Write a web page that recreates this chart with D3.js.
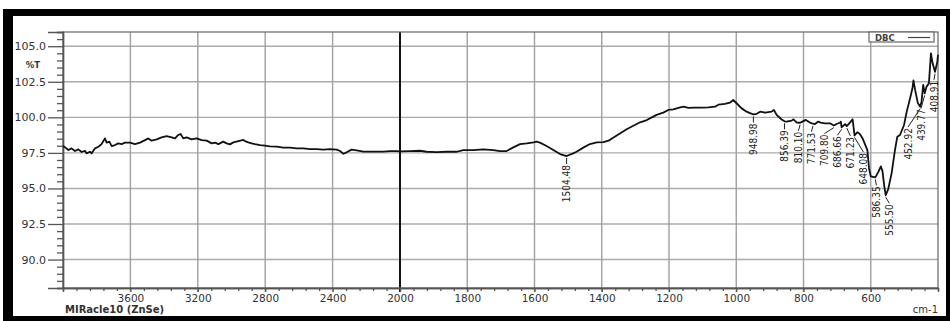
<!DOCTYPE html>
<html><head><meta charset="utf-8">
<script src="https://cdn.jsdelivr.net/npm/d3@7"></script>
<style>
html,body{margin:0;padding:0;background:#fff;}
svg{display:block;}
</style></head><body>
<svg id="chart" width="950" height="321"></svg>
<script>
// FTIR spectrum (ATR, ZnSe crystal): wavenumber in cm-1, transmittance in %T
const wavenumbers = [
  4000,3988,3968,3949,3929,3909,3889,3870,3860,3840,3830,3810,3790,3771,3751,3741,3725,3711,3691,3672,
  3652,3632,3602,3573,3543,3513,3494,3474,3444,3415,3385,3355,3335,3316,3302,3286,3266,3237,3207,3177,
  3147,3118,3098,3078,3049,3029,3009,2989,2959,2930,2920,2900,2880,2861,2831,2801,2772,2732,2693,2653,
  2613,2574,2534,2495,2455,2415,2376,2356,2336,2317,2287,2257,2218,2178,2139,2099,2059,2020,2000,1970,
  1941,1921,1891,1861,1831,1812,1782,1752,1722,1703,1683,1663,1643,1623,1603,1594,1584,1564,1544,1524,
  1504.48,1485,1475,1455,1435,1415,1395,1380,1365,1346,1326,1306,1286,1266,1251,1237,1217,1202,1187,1172,
  1157,1142,1123,1103,1083,1063,1053,1034,1019,1009,999,984,969,959,948.98,939,929,914,895,888,
  880,865,856.39,850,835,830,820,810.10,805,793,781,771.53,766,756,749,736,721,709.80,700,692,
  689,686.66,680,676,671.23,662,654,648.08,640,633,625,616,610,605,600,586.35,577,570,565,560,
  555.50,548,538,528,521,513,501,493,483,476,473,468,460,452.92,449,444,439.77,434,427,421,
  416,408.91,402,400
];
const transmittance = [
  97.98,97.89,97.70,97.82,97.63,97.75,97.56,97.65,97.47,97.58,97.47,97.82,97.93,98.12,98.52,98.22,98.29,97.98,98.05,98.17,
  98.12,98.22,98.22,98.12,98.22,98.40,98.52,98.36,98.45,98.59,98.68,98.59,98.52,98.76,98.83,98.52,98.59,98.45,98.52,98.40,
  98.36,98.17,98.22,98.12,98.29,98.17,98.10,98.24,98.33,98.41,98.33,98.24,98.17,98.12,98.05,98.01,97.96,97.94,97.87,97.87,
  97.82,97.82,97.77,97.77,97.73,97.77,97.73,97.63,97.44,97.54,97.73,97.68,97.59,97.59,97.59,97.59,97.63,97.63,97.60,97.63,
  97.65,97.58,97.56,97.58,97.58,97.70,97.70,97.75,97.70,97.63,97.63,97.89,98.12,98.17,98.24,98.29,98.22,97.98,97.70,97.42,
  97.28,97.47,97.58,97.87,98.12,98.24,98.26,98.36,98.59,98.87,99.16,99.41,99.65,99.81,100.00,100.17,100.33,100.52,100.56,100.66,
  100.75,100.66,100.68,100.68,100.70,100.75,100.89,100.94,101.03,101.22,100.99,100.63,100.40,100.30,100.20,100.25,100.40,100.33,100.40,100.52,
  100.17,99.85,99.72,99.70,99.77,99.86,99.63,99.62,99.68,99.82,99.63,99.55,99.53,99.70,99.63,99.58,99.58,99.42,99.55,99.62,
  99.70,99.30,99.45,99.52,99.38,99.63,99.86,98.72,98.95,98.85,98.55,98.05,97.70,96.40,95.85,95.78,96.18,96.55,96.20,95.20,
  94.52,94.95,96.06,97.70,98.64,98.76,99.46,100.40,101.34,102.04,102.60,101.93,101.00,100.75,101.10,102.28,101.68,102.16,102.39,104.50,
  103.80,103.20,103.90,104.40
];
// Picked absorption bands (labelled on the trace)
const peakWavenumbers = [1504.48, 948.98, 856.39, 810.10, 771.53, 709.80, 686.66, 671.23, 648.08, 586.35, 555.50, 452.92, 439.77, 408.91];

const xMajorTicks = [3600, 3200, 2800, 2400, 2000, 1800, 1600, 1400, 1200, 1000, 800, 600];
const yMajorTicks = [90, 92.5, 95, 97.5, 100, 102.5, 105];
const seriesName = "DBC";
const accessoryLabel = "MIRacle10 (ZnSe)";
const yUnitLabel = "%T";
const xUnitLabel = "cm-1";

const svg = d3.select("#chart");
const W = 950, H = 321;

// outer black frame
svg.append("rect").attr("x", 3).attr("y", 9).attr("width", W - 3).attr("height", H - 9).attr("fill", "#000");
svg.append("rect").attr("x", 13).attr("y", 16).attr("width", W - 17).attr("height", H - 16 - 5).attr("fill", "#fff");

const pLeft = 63, pRight = 938, pTop = 32, pBottom = 288;
// expanded scale below 2000 cm-1 (twice the spacing of the high-wavenumber part)
const x = d3.scaleLinear().domain([4000, 2000, 400]).range([pLeft, 400, pRight]);
const y = d3.scaleLinear().domain([88, 106]).range([pBottom, pTop]);

const font = "'DejaVu Sans', Verdana, sans-serif";
const grid = svg.append("g");

// horizontal grid
grid.selectAll("line.h").data(yMajorTicks).join("line")
  .attr("x1", pLeft).attr("x2", pRight)
  .attr("y1", d => y(d)).attr("y2", d => y(d))
  .attr("stroke", "#ababab").attr("stroke-width", 1.4);
// vertical grid
grid.selectAll("line.v").data(xMajorTicks.filter(d => d !== 2000)).join("line")
  .attr("x1", d => x(d)).attr("x2", d => x(d))
  .attr("y1", pTop).attr("y2", pBottom + 4)
  .attr("stroke", "#a0a0a0").attr("stroke-width", 1.4);
// scale-change marker at 2000 cm-1
grid.append("line")
  .attr("x1", x(2000)).attr("x2", x(2000)).attr("y1", pTop).attr("y2", pBottom + 4)
  .attr("stroke", "#111").attr("stroke-width", 2);

// plot frame
svg.append("rect").attr("x", pLeft).attr("y", pTop).attr("width", pRight - pLeft).attr("height", pBottom - pTop)
  .attr("fill", "none").attr("stroke", "#666").attr("stroke-width", 1.2);

// y axis
const yMinor = d3.range(88, 106.001, 0.5).filter(v => !yMajorTicks.includes(v));
const yAxisMinor = d3.axisLeft(y).tickValues(yMinor).tickSize(6).tickFormat("");
const yAxis = d3.axisLeft(y).tickValues(yMajorTicks).tickSize(15).tickPadding(2).tickFormat(d3.format(".1f"));
const gyMin = svg.append("g").attr("transform", `translate(${pLeft},0)`).call(yAxisMinor);
const gy = svg.append("g").attr("transform", `translate(${pLeft},0)`).call(yAxis);
[gy, gyMin].forEach(g => {
  g.select(".domain").attr("stroke", "#555").attr("stroke-width", 1.4);
  g.selectAll(".tick line").attr("stroke", "#555").attr("stroke-width", 1.3);
});
gy.selectAll(".tick text").attr("font-family", font).attr("font-size", 11).attr("fill", "#333");

// x axis
const xMinor = d3.range(4000, 2000, -80).concat(d3.range(2000, 400, -40))
  .filter(v => !xMajorTicks.includes(v) && v !== 4000);
const xAxisMinor = d3.axisBottom(x).tickValues(xMinor).tickSize(3).tickFormat("");
const xAxis = d3.axisBottom(x).tickValues(xMajorTicks).tickSize(4).tickPadding(3).tickFormat(d3.format("d"));
const gxMin = svg.append("g").attr("transform", `translate(0,${pBottom})`).call(xAxisMinor);
const gx = svg.append("g").attr("transform", `translate(0,${pBottom})`).call(xAxis);
[gx, gxMin].forEach(g => {
  g.select(".domain").attr("stroke", "#555").attr("stroke-width", 1.4);
  g.selectAll(".tick line").attr("stroke", "#555").attr("stroke-width", 1.3);
});
gx.selectAll(".tick text").attr("font-family", font).attr("font-size", 10.5).attr("fill", "#333");

// unit and accessory labels
svg.append("text").attr("x", 40).attr("y", 68).attr("text-anchor", "end")
  .attr("font-family", font).attr("font-size", 8.5).attr("font-weight", "bold").attr("fill", "#333").text(yUnitLabel);
svg.append("text").attr("x", 65).attr("y", 313)
  .attr("font-family", font).attr("font-size", 10).attr("font-weight", "bold").attr("fill", "#333").text(accessoryLabel);
svg.append("text").attr("x", 938).attr("y", 313).attr("text-anchor", "end")
  .attr("font-family", font).attr("font-size", 10).attr("fill", "#333").text(xUnitLabel);

// spectrum trace
const pts = wavenumbers.map((w, i) => [w, transmittance[i]]);
svg.append("path").datum(pts)
  .attr("fill", "none").attr("stroke", "#111").attr("stroke-width", 1.8).attr("stroke-linejoin", "round")
  .attr("d", d3.line().x(d => x(d[0])).y(d => y(d[1])));

// transmittance of the trace at any wavenumber (linear between samples)
function traceAt(w) {
  for (let i = 0; i < wavenumbers.length - 1; i++) {
    const a = wavenumbers[i], b = wavenumbers[i + 1];
    if (w <= a && w >= b) {
      const t = (a - w) / (a - b);
      return transmittance[i] + t * (transmittance[i + 1] - transmittance[i]);
    }
  }
  return transmittance[transmittance.length - 1];
}

// peak labels, spread horizontally so that they do not overlap
const peaks = peakWavenumbers.map(w => {
  const i = wavenumbers.indexOf(w);
  return { w, v: transmittance[i], px: x(w) };
}).sort((a, b) => a.px - b.px);
const gap = 13, maxX = 934;
const clusters = [];
const startOf = cl => cl.sum / cl.items.length - (cl.items.length - 1) * gap / 2;
peaks.forEach(p => {
  clusters.push({ items: [p], sum: p.px });
  while (clusters.length > 1) {
    const c = clusters[clusters.length - 1], prev = clusters[clusters.length - 2];
    const prevEnd = startOf(prev) + (prev.items.length - 1) * gap;
    if (prevEnd + gap > startOf(c)) {
      prev.items = prev.items.concat(c.items); prev.sum += c.sum; clusters.pop();
    } else break;
  }
});
clusters.forEach(cl => {
  let s = startOf(cl);
  const e = s + (cl.items.length - 1) * gap;
  if (e > maxX) s -= e - maxX;
  cl.items.forEach((p, k) => { p.lx = s + k * gap; });
});
// keep each label below the trace where it is placed
peaks.forEach(p => {
  let low = y(p.v) + 8;
  for (let sx = p.lx - 4; sx <= p.lx + 4; sx += 1) {
    low = Math.max(low, y(traceAt(x.invert(sx))) + 2);
  }
  p.ty = low;
});
const lab = svg.append("g");
peaks.forEach(p => {
  const cy = y(p.v);
  lab.append("path")
    .attr("d", `M${p.px},${cy + 2}L${p.lx},${p.ty}`)
    .attr("fill", "none").attr("stroke", "#222").attr("stroke-width", 1);
  lab.append("text")
    .attr("transform", `translate(${p.lx},${p.ty + 1}) rotate(-90)`)
    .attr("text-anchor", "end").attr("dy", "0.35em")
    .attr("font-family", "'Liberation Sans Narrow', 'Arial Narrow', 'DejaVu Sans Condensed', sans-serif")
    .attr("font-size", 10).attr("fill", "#222")
    .text(d3.format(".2f")(p.w));
});

// legend
const lg = svg.append("g");
lg.append("rect").attr("x", 869).attr("y", pTop).attr("width", 65).attr("height", 10)
  .attr("fill", "#fff").attr("stroke", "#666").attr("stroke-width", 1.2);
lg.append("text").attr("x", 875).attr("y", 40.5)
  .attr("font-family", font).attr("font-size", 8.5).attr("font-weight", "bold").attr("fill", "#444").text(seriesName);
lg.append("line").attr("x1", 908).attr("x2", 930).attr("y1", 37.5).attr("y2", 37.5)
  .attr("stroke", "#444").attr("stroke-width", 1.2);
</script>
</body></html>
